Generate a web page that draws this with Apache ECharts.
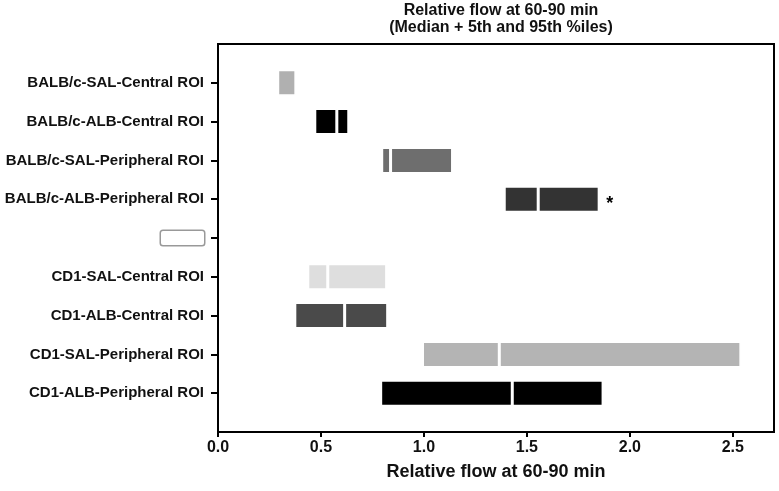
<!DOCTYPE html>
<html>
<head>
<meta charset="utf-8">
<script src="https://cdn.jsdelivr.net/npm/echarts@6/dist/echarts.min.js"></script>
<style>html,body{margin:0;padding:0;background:#fff}#c{width:779px;height:491px}</style>
</head>
<body>
<div id="c"></div>
<script>
// Categories top to bottom ('' = padding rows, '__box__' = empty legend-like box row)
var categories = ['', 'BALB/c-SAL-Central ROI', 'BALB/c-ALB-Central ROI', 'BALB/c-SAL-Peripheral ROI',
  'BALB/c-ALB-Peripheral ROI', '__box__', 'CD1-SAL-Central ROI', 'CD1-ALB-Central ROI',
  'CD1-SAL-Peripheral ROI', 'CD1-ALB-Peripheral ROI', ''];
// 5th percentile, median, 95th percentile (null = no bar)
var p5     = [null, 0.29, 0.47, 0.795, 1.39, null, 0.436, 0.373, 0.993, 0.79, null];
var median = [null, 0.29, 0.577, 0.838, 1.555, null, 0.533, 0.615, 1.366, 1.429, null];
var p95    = [null, 0.378, 0.635, 1.139, 1.851, null, 0.819, 0.824, 2.539, 1.87, null];
var colors = [null, '#b0b0b0', '#000000', '#6e6e6e', '#333333', null, '#dedede', '#4a4a4a', '#b4b4b4', '#000000', null];
var starred = [false, false, false, false, true, false, false, false, false, false, false];
var xTicks = [0, 0.5, 1.0, 1.5, 2.0, 2.5];

var FONT = '"Liberation Sans", Arial, sans-serif';
var baseData = p5.map(function (v) { return v == null ? '-' : v; });
var seg1 = p5.map(function (v, i) {
  return v == null ? '-' : { value: median[i] - v, itemStyle: { color: colors[i] } };
});
var seg2 = p5.map(function (v, i) {
  if (v == null) return '-';
  var d = { value: p95[i] - median[i], itemStyle: { color: colors[i] } };
  if (starred[i]) d.label = { show: true, position: 'right', formatter: '*', distance: 7,
    fontSize: 18, fontWeight: 'bold', color: '#000', fontFamily: FONT, offset: [0, 5] };
  return d;
});

var chart = echarts.init(document.getElementById('c'), null, { renderer: 'canvas' });
chart.setOption({
  backgroundColor: '#fff',
  animation: false,
  title: {
    text: 'Relative flow at 60-90 min\n(Median + 5th and 95th %iles)',
    left: 496, top: -3, textAlign: 'center',
    textStyle: { fontFamily: FONT, fontSize: 16, fontWeight: 'bold', color: '#111', lineHeight: 17 }
  },
  grid: { left: 218, right: 5, top: 44, bottom: 59, show: true, borderColor: '#000', borderWidth: 2, backgroundColor: 'transparent' },
  xAxis: {
    type: 'value', min: 0, max: 2.7, interval: 0.5,
    axisLine: { show: true, lineStyle: { color: '#000', width: 2 } },
    axisTick: { show: true, length: 5, lineStyle: { color: '#000', width: 2 } },
    splitLine: { show: false },
    axisLabel: { margin: 8, fontFamily: FONT, fontSize: 16, fontWeight: 'bold', color: '#111',
      showMaxLabel: false,
      formatter: function (v) { return xTicks.indexOf(v) >= 0 ? v.toFixed(1) : ''; } },
    name: 'Relative flow at 60-90 min', nameLocation: 'middle', nameGap: 31,
    nameTextStyle: { fontFamily: FONT, fontSize: 18, fontWeight: 'bold', color: '#111' }
  },
  yAxis: {
    type: 'category', data: categories, inverse: true, boundaryGap: false,
    axisLine: { show: true, lineStyle: { color: '#000', width: 2 } },
    axisTick: { show: true, length: 7, lineStyle: { color: '#000', width: 2 },
      interval: function (i, v) { return v !== ''; } },
    axisLabel: { margin: 14, fontFamily: FONT, fontSize: 15, fontWeight: 'bold', color: '#111',
      interval: 0,
      formatter: function (v) { return v === '__box__' ? '{box|}' : v; },
      rich: { box: { width: 43, height: 14, borderColor: '#999', borderWidth: 1.5, borderRadius: 2, backgroundColor: '#fff' } } }
  },
  series: [
    { type: 'bar', stack: 'r', data: baseData, barWidth: 26, itemStyle: { color: 'transparent' }, silent: true },
    { type: 'bar', stack: 'r', data: seg1, barWidth: 26, itemStyle: { borderColor: '#fff', borderWidth: 1.5 } },
    { type: 'bar', stack: 'r', data: seg2, barWidth: 26, itemStyle: { borderColor: '#fff', borderWidth: 1.5 } }
  ]
});
</script>
</body>
</html>
